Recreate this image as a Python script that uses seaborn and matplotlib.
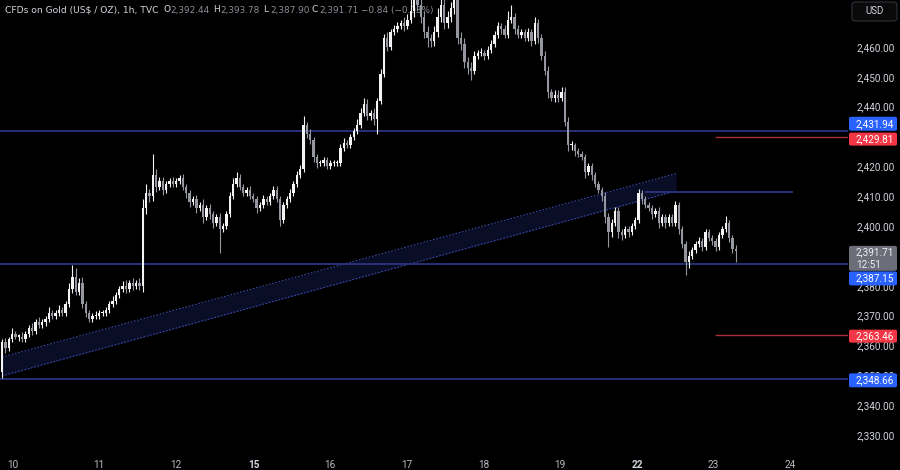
import numpy as np
import pandas as pd
import matplotlib
matplotlib.use("Agg")
import matplotlib.pyplot as plt
import seaborn as sns
from matplotlib.patches import FancyBboxPatch

# ---------------- data ----------------
first_open = 2351.0
closes = [
    2361, 2359, 2362, 2364, 2363, 2363, 2362, 2364, 2366, 2365,
    2368, 2367, 2368, 2369, 2371, 2370, 2371, 2372, 2371, 2374,
    2379, 2383, 2378, 2381, 2374, 2371, 2369, 2370, 2370, 2371,
    2371, 2372, 2374, 2375, 2377, 2379, 2380, 2379, 2381, 2380,
    2381, 2380, 2406, 2411, 2410, 2417, 2413, 2415, 2412, 2414,
    2415, 2414, 2415, 2416, 2413, 2411, 2408, 2409, 2406, 2407,
    2403, 2406, 2404, 2401, 2403, 2399, 2400, 2404, 2410, 2414,
    2416, 2413, 2411, 2412, 2410, 2409, 2406, 2407, 2409, 2408,
    2410, 2412, 2409, 2402, 2407, 2409, 2411, 2414, 2417, 2419,
    2434, 2431, 2429, 2423, 2421, 2421, 2422, 2420, 2421, 2421,
    2421, 2426, 2428, 2427, 2430, 2432, 2434, 2438, 2441, 2437,
    2438, 2436, 2442, 2451, 2463, 2460, 2465, 2466, 2467, 2468,
    2467, 2469, 2472, 2478, 2474, 2470, 2465, 2463, 2462, 2465,
    2470, 2474, 2468, 2470, 2473, 2476, 2463, 2461, 2455, 2453,
    2452, 2457, 2458, 2458, 2457, 2459, 2461, 2464, 2467, 2466,
    2464, 2469, 2470, 2466, 2464, 2465, 2463, 2465, 2462, 2468,
    2463, 2457, 2452, 2445, 2443, 2444, 2443, 2445, 2435, 2427,
    2427, 2425, 2424, 2423, 2418, 2420, 2417, 2414, 2412, 2410,
    2403, 2398, 2401, 2405, 2398, 2397, 2399, 2398, 2400, 2402,
    2411, 2409, 2407, 2406, 2404, 2405, 2401, 2403, 2401, 2403,
    2401, 2407, 2399, 2394, 2388, 2390, 2392, 2394, 2395, 2393,
    2398, 2396, 2395, 2393, 2397, 2399, 2401, 2396, 2392.44, 2391.71,
]
up_wick = [
    1, 1.5, 1, 2, 1, 1, 1.5, 1, 1, 1.5,
    1, 1.5, 1, 1, 2, 1, 1, 1.5, 1, 1,
    2, 4, 3, 1.5, 2, 1, 1, 1, 1.5, 1,
    1, 1, 1, 1.5, 1, 1, 1.5, 2, 1, 1.5,
    1, 1.5, 3, 3, 1.5, 7, 2, 1.5, 1.5, 1,
    1, 1.5, 1, 1, 1.5, 1, 1, 1, 1.5, 1,
    2, 1, 1.5, 1, 1, 1.5, 1, 1, 1.5, 2,
    2, 1.5, 1, 1, 1.5, 1, 1, 1, 1.5, 1,
    1, 1.5, 1.5, 1, 1, 1, 1.5, 1, 1.5, 1.5,
    3, 1, 1.5, 1, 1, 1, 1, 1, 1, 1,
    1, 1.5, 1.5, 1, 1, 1, 2, 1.5, 2, 1.5,
    1, 1.5, 1, 1.5, 1.5, 2, 1, 1.5, 1.5, 1,
    2, 2, 6, 6, 3, 2, 2, 2, 1.5, 2,
    3, 3, 2, 2, 2, 4, 2, 2, 2, 1.5,
    2, 1.5, 1, 1.5, 1, 1.5, 1.5, 1.5, 1.5, 1,
    1.5, 3, 4, 1.5, 1.5, 1, 1, 1.5, 1, 2,
    1.5, 1.5, 1.5, 1.5, 1, 1.5, 1.5, 1.5, 1.5, 1.5,
    1.5, 1, 1, 1, 1, 1, 1, 1, 1, 1,
    1.5, 1.5, 1.5, 1.5, 1.5, 1, 1, 1, 1, 1,
    1.5, 1, 1, 1, 1, 1, 1.5, 1, 1, 1,
    1, 1.5, 1, 1, 1, 1.5, 1, 1, 1.5, 1,
    1, 1, 1, 1, 1, 1, 2.5, 1, 1, 1.34,
]
dn_wick = [
    2, 1.5, 1, 1, 1, 1.5, 1, 1, 1, 1.5,
    1, 1, 1, 1.5, 1, 1, 1, 1, 1, 1,
    1, 1.5, 1, 1, 1.5, 1.5, 1, 1, 1, 1,
    1, 1, 1, 1, 1, 1, 1, 1.5, 1, 1.5,
    1, 1.5, 2, 2, 2, 1.5, 1.5, 1, 1.5, 1,
    1, 1, 1, 1, 1, 1.5, 1.5, 1, 1.5, 1,
    2, 1, 1.5, 1.5, 1, 8, 1, 1, 1, 1,
    1, 1, 1, 1, 1, 1, 1.5, 1, 1, 1,
    1, 1, 1, 2, 1, 1, 1, 1, 1, 1,
    1, 1.5, 1.5, 1.5, 1.5, 1, 1, 1, 1, 1,
    1, 1, 1, 1, 1, 1, 1, 1, 1, 1.5,
    1.5, 2, 5, 1, 1, 1.5, 1, 1, 1, 1,
    1.5, 1, 1, 2, 2, 2, 2, 3, 2, 1.5,
    1.5, 1.5, 2, 1.5, 1.5, 2, 2, 2, 2, 2,
    3, 1, 1, 1, 1.5, 1, 1, 1, 1, 1.5,
    1, 1, 1, 1.5, 1, 1, 1, 1, 1.5, 1,
    1.5, 1.5, 1.5, 2, 1, 1.5, 1.5, 1, 1.5, 2,
    1.5, 1.5, 1, 1, 2, 1, 1.5, 1, 1, 1.5,
    2, 5, 1.5, 1, 2, 1.5, 1, 1.5, 1, 1,
    1, 1.5, 1, 1, 1.5, 1, 1.5, 1, 1.5, 1,
    1, 1, 1.5, 1.5, 4.5, 2, 1, 1, 1, 1.5,
    1, 1, 1.5, 1.5, 1, 1, 1, 1.5, 1.5, 3.81,
]

day_labels = ["10", "11", "12", "15", "16", "17", "18", "19", "22", "23", "24"]
day_pos = [3.3, 29.0, 52.0, 75.2, 97.9, 120.9, 143.9, 166.6, 189.6, 212.2, 235.2]
week_start_labels = ["15", "22"]

# 2,430 and 2,390 are hidden behind the price tags in the reference
price_ticks = [2330, 2340, 2350, 2360, 2370, 2380, 2400, 2410,
               2420, 2440, 2450, 2460]
levels_blue = [2431.94, 2387.15, 2348.66]
levels_red = [2429.81, 2363.46]
last_price = 2391.71
countdown = "12:51"
channel_x = [0.0, 201.2]
channel_upper = [2356.1, 2417.6]
channel_lower = [2349.8, 2411.8]
hseg_price = 2411.3
hseg_x = [192.0, 236.1]
red_start = 212.8

header_name = "CFDs on Gold (US$ / OZ), 1h, TVC"
ohlc_letters = ["O", "H", "L", "C"]
ohlc_values = [2392.44, 2393.78, 2387.90, 2391.71]
change_text = "\u22120.84 (\u22120.03%)"
currency = "USD"

# ---------------- build table ----------------
opens = [first_open] + closes[:-1]
df = pd.DataFrame({"open": opens, "close": closes,
                   "uw": up_wick, "dw": dn_wick})
df["idx"] = np.arange(len(df))
df["top"] = df[["open", "close"]].max(axis=1)
df["bot"] = df[["open", "close"]].min(axis=1)
df["high"] = df["top"] + df["uw"]
df["low"] = df["bot"] - df["dw"]
df["up"] = df["close"] >= df["open"]

# ---------------- style ----------------
sns.set_theme(style="dark", rc={"axes.facecolor": "black",
                                "figure.facecolor": "black"})
plt.rcParams["font.family"] = ["Roboto", "DejaVu Sans"]

W, H = 900, 470
fig = plt.figure(figsize=(W / 100, H / 100), dpi=100, facecolor="black")
ax = fig.add_axes([0, 15 / H, 848 / W, 455 / H])
ax.set_facecolor("black")
XMIN, XMAX = -0.6, 252.5
ax.set_xlim(XMIN, XMAX)
ax.set_ylim(2323.3, 2475.75)
for s in ax.spines.values():
    s.set_visible(False)
ax.grid(False)

NAVY = "#2c3380"
BLUE = "#2962ff"
RED = "#f23645"
TXT = "#d1d4dc"

# channel
ax.fill_between(channel_x, channel_lower, channel_upper, color="#090d26",
                lw=0, zorder=1)
for edge in (channel_upper, channel_lower):
    ax.plot(channel_x, edge, color="#3a4aa8", lw=0.8,
            ls=(0, (1.5, 1.5)), zorder=1.2)

# levels
for p in levels_blue:
    ax.axhline(p, color=NAVY, lw=1.3, zorder=1.5)
ax.hlines(hseg_price, hseg_x[0], hseg_x[1], color=NAVY, lw=1.3, zorder=1.5)
for p in levels_red:
    ax.hlines(p, red_start, XMAX, color="#a8303a", lw=1.0, zorder=1.5)

# candles
col = np.where(df["up"], "#f4f4f4", "#9597a0")
ax.vlines(df["idx"], df["low"], df["high"], colors=col, lw=0.8, zorder=3)
ax.bar(df["idx"], np.maximum(df["top"] - df["bot"], 0.35), bottom=df["bot"],
       width=0.7, color=col, linewidth=0, zorder=3.2)

# axes ticks
ax.yaxis.tick_right()
ax.set_yticks(price_ticks)
ax.set_yticklabels([f"{p:,.2f}" for p in price_ticks])
ax.tick_params(axis="y", length=0, pad=6.0, labelsize=7.2, labelcolor=TXT)
ax.set_xticks(day_pos)
ax.set_xticklabels(day_labels)
ax.tick_params(axis="x", length=0, pad=3.5, labelsize=7.2, labelcolor="#b8bbc4")
for t in ax.get_xticklabels():
    if t.get_text() in week_start_labels:
        t.set_fontweight("bold")
        t.set_color(TXT)

# header (drawn under candles)
ft = fig.transFigure
def fx(px):
    return px / W
def fy(py):
    return 1 - py / H

HF = ["DejaVu Sans"]
ax.text(fx(5), fy(10), header_name, transform=ft, color=TXT, fontsize=6.6,
        family=HF, va="center", ha="left", zorder=2)
letter_x = [163, 213, 263, 312]
for lx, let, val in zip(letter_x, ohlc_letters, ohlc_values):
    ax.text(fx(lx), fy(10), let, transform=ft, color=TXT, fontsize=6.6,
            family=HF, va="center", ha="left", zorder=2)
    ax.text(fx(lx + 7), fy(10), f"{val:,.2f}", transform=ft, color="#8a8d96",
            family=HF, fontsize=6.4, va="center", ha="left", zorder=2)
ax.text(fx(361), fy(10), change_text, transform=ft, color="#8a8d96",
        family=HF, fontsize=6.4, va="center", ha="left", zorder=2)

# price tags
def price_to_top_px(p):
    disp = ax.transData.transform((0, p))[1]
    return H - disp

def tag(center_px, height_px, color, lines, txtcolor="white", zorder=20):
    x0, x1 = 849, 897
    box = FancyBboxPatch((fx(x0), fy(center_px + height_px / 2)),
                         fx(x1 - x0), height_px / H,
                         boxstyle="round,pad=0,rounding_size=0.003",
                         transform=ft, facecolor=color, edgecolor="none",
                         zorder=zorder, clip_on=False)
    ax.add_artist(box)
    n = len(lines)
    for k, s in enumerate(lines):
        cy = center_px - height_px / 2 + height_px * (k + 0.5) / n
        ax.text(fx(856), fy(cy), s, transform=ft, color=txtcolor,
                fontsize=7.2, va="center", ha="left", zorder=zorder + 1,
                clip_on=False)

tag_shift = {2431.94: -7, 2429.81: 2, 2387.15: 14, 2363.46: 1, 2348.66: 1}
for p in levels_blue:
    tag(price_to_top_px(p) + tag_shift[p], 14, BLUE, [f"{p:,.2f}"])
for p in levels_red:
    tag(price_to_top_px(p) + tag_shift[p], 13, RED, [f"{p:,.2f}"])
tag(price_to_top_px(last_price) + 7.5, 25, "#6b6e78",
    [f"{last_price:,.2f}", countdown], txtcolor="#eceef2")

# currency button
btn = FancyBboxPatch((fx(852), fy(21)), fx(45), 19 / H,
                     boxstyle="round,pad=0,rounding_size=0.005",
                     transform=ft, facecolor="#0a0a0a", edgecolor="#2f323c",
                     lw=0.8, zorder=20, clip_on=False)
ax.add_artist(btn)
ax.text(fx(874.5), fy(11.5), currency, transform=ft, color=TXT, fontsize=7,
        ha="center", va="center", zorder=21)

fig.savefig("out.png", dpi=100, facecolor="black")
